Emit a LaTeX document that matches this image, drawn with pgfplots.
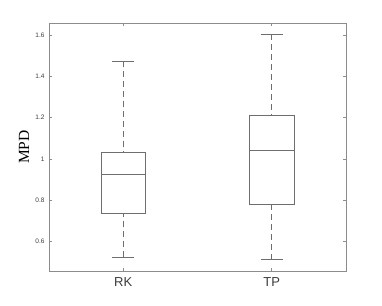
\documentclass[border=0pt]{standalone}
\usepackage{pgfplots}
\pgfplotsset{compat=1.18}
\usepgfplotslibrary{statistics}
\usepackage{fontspec}
\setmainfont{Liberation Sans}
\newfontfamily\serifl{Liberation Serif}
\definecolor{axgray}{RGB}{140,140,140}
\definecolor{boxgray}{RGB}{110,110,110}
\definecolor{txtgray}{RGB}{60,60,60}
\begin{document}
\begin{tikzpicture}[x=1pt,y=1pt]
\begin{axis}[
  scale only axis,
  width=297pt, height=248pt,
  xmin=0.5, xmax=2.5,
  ymin=0.454, ymax=1.661,
  xtick={1,2}, xticklabels={RK,TP},
  ytick={0.6,0.8,1,1.2,1.4,1.6},
  yticklabels={0.6,0.8,1,1.2,1.4,1.6},
  tick align=inside,
  major tick length=3pt,
  axis line style={axgray, line width=0.6pt},
  tick style={axgray, line width=0.6pt},
  x tick label style={font=\fontsize{13}{13}\selectfont, text=txtgray, yshift=-3pt},
  y tick label style={font=\fontsize{6.5}{7}\selectfont, text=txtgray, xshift=-1pt},
  ylabel={\serifl\fontsize{15.5}{16}\selectfont MPD},
  ylabel style={text=black},
  every axis y label/.style={at={(rel axis cs:0,0.5)}, rotate=90, anchor=center, yshift=25pt},
  boxplot/draw direction=y,
  boxplot/box extend=0.3,
  boxplot/whisker extend=0.15,
  boxplot/draw/lower whisker/.code={%
    \draw[boxgray, line width=0.6pt, dash pattern=on 6pt off 4pt]
      (boxplot cs:\pgfplotsboxplotvalue{lower whisker}) -- (boxplot cs:\pgfplotsboxplotvalue{lower quartile});
    \draw[boxgray, line width=0.6pt]
      (boxplot whisker cs:\pgfplotsboxplotvalue{lower whisker},0) --
      (boxplot whisker cs:\pgfplotsboxplotvalue{lower whisker},1);
  },
  boxplot/draw/upper whisker/.code={%
    \draw[boxgray, line width=0.6pt, dash pattern=on 6pt off 4pt]
      (boxplot cs:\pgfplotsboxplotvalue{upper whisker}) -- (boxplot cs:\pgfplotsboxplotvalue{upper quartile});
    \draw[boxgray, line width=0.6pt]
      (boxplot whisker cs:\pgfplotsboxplotvalue{upper whisker},0) --
      (boxplot whisker cs:\pgfplotsboxplotvalue{upper whisker},1);
  },
]
\addplot[boxgray, line width=0.6pt, boxplot prepared={draw position=1,
  lower whisker=0.520, lower quartile=0.733, median=0.927,
  upper quartile=1.034, upper whisker=1.476}] coordinates {};
\addplot[boxgray, line width=0.6pt, boxplot prepared={draw position=2,
  lower whisker=0.509, lower quartile=0.780, median=1.042,
  upper quartile=1.210, upper whisker=1.606}] coordinates {};
\end{axis}
\useasboundingbox (-49,-34) rectangle (333,271);
\end{tikzpicture}
\end{document}
